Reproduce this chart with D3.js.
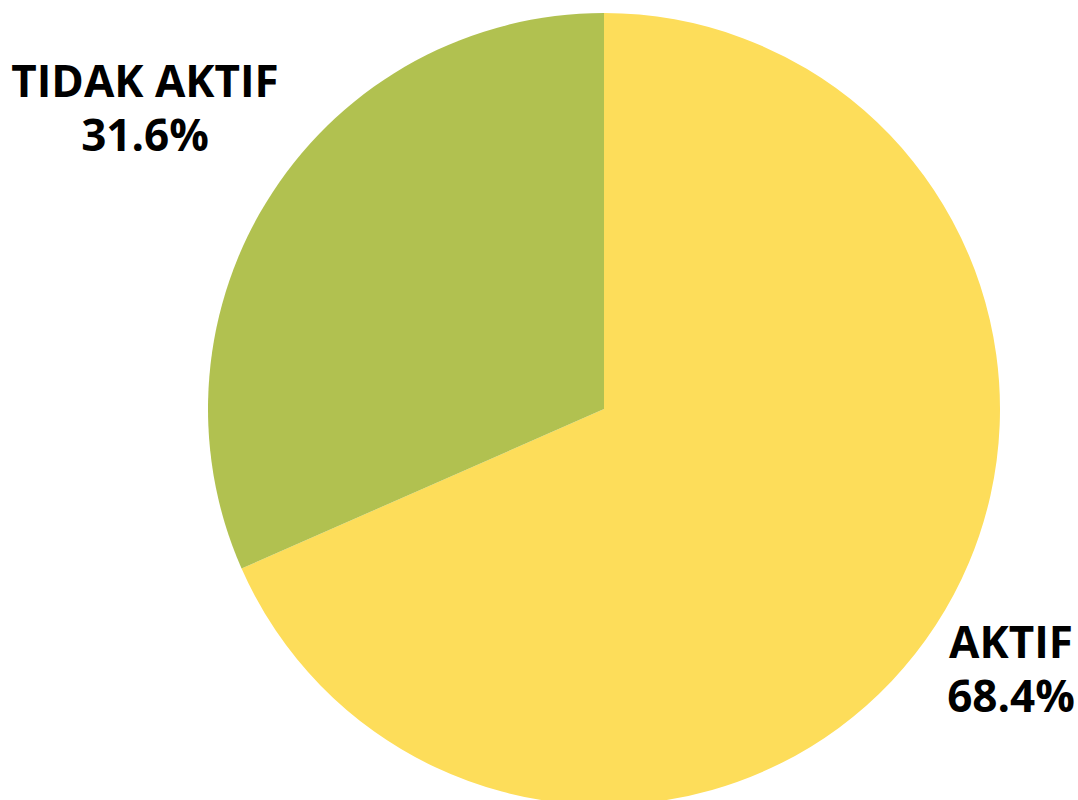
<html>
<head>
<meta charset="utf-8">
<script src="https://d3js.org/d3.v7.min.js"></script>
<style>
  body { margin: 0; background: #ffffff; }
</style>
</head>
<body>
<div id="my_dataviz"></div>
<script>
var categories = ["AKTIF", "TIDAK AKTIF"];
var values = [68.4, 31.6];
var colors = ["#FDDD5A", "#B1C150"];

var width = 1078, height = 800;
var cx = 604, cy = 409, radius = 396;

var svg = d3.select("#my_dataviz")
  .append("svg")
    .attr("width", width)
    .attr("height", height);

var data = categories.map(function(c, i) { return {name: c, value: values[i], color: colors[i]}; });

var pie = d3.pie()
  .sort(null)
  .value(function(d) { return d.value; });

var arc = d3.arc()
  .innerRadius(0)
  .outerRadius(radius);

var g = svg.append("g")
  .attr("transform", "translate(" + cx + "," + cy + ")");

g.selectAll("path")
  .data(pie(data))
  .enter()
  .append("path")
    .attr("d", arc)
    .style("fill", function(d) { return d.data.color; });

// labels sit outside the pie
var labelPos = {
  "AKTIF": [1011, 658],
  "TIDAK AKTIF": [145, 97]
};

data.forEach(function(d) {
  var p = labelPos[d.name];
  var t = svg.append("text")
    .attr("x", p[0])
    .attr("y", p[1])
    .attr("text-anchor", "middle")
    .style("font-family", "'Open Sans', sans-serif")
    .style("font-weight", "bold")
    .style("font-size", "44px")
    .style("fill", "#000");
  t.append("tspan").attr("x", p[0]).text(d.name);
  t.append("tspan").attr("x", p[0]).attr("dy", 54).text(d.value.toFixed(1) + "%");
});
</script>
</body>
</html>
